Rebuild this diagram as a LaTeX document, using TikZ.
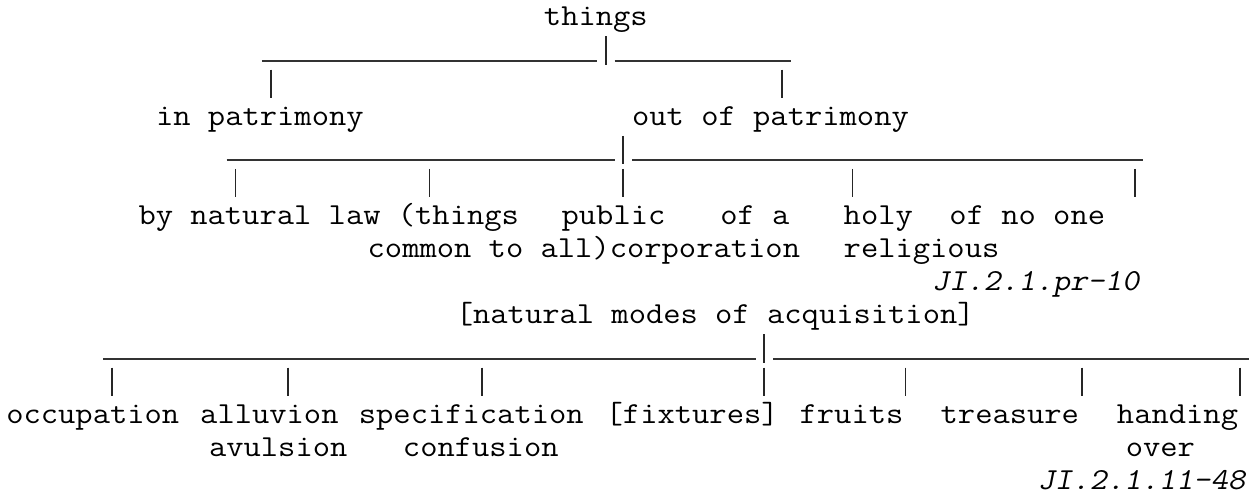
\documentclass[tikz,border=0pt]{standalone}
\usepackage{fontspec}
\newfontfamily\monofam{Latin Modern Mono}[FakeStretch=1.1]
\newfontfamily\reffam{Latin Modern Mono}[FakeStretch=1.1,FakeSlant=0.2]
% grid: cell start x and baseline y (1 unit = 1 px of the reference)
\newcommand{\cellx}[1]{(15.09+17.63*(#1))}
\newcommand{\basey}[1]{(-26-33.1*((#1)-1))}
\newcommand{\putlbl}[5][lbl]{\node[#1] (#2) at ({\cellx{#3}},{\basey{#4}}) {#5};}
\newcommand{\vbar}[3]{%
  \coordinate (#1-t) at ({\cellx{#3}+8.815},{\basey{#2}+22.6});
  \coordinate (#1-b) at ({\cellx{#3}+8.815},{\basey{#2}-6});
  \draw[bar] (#1-t) -- (#1-b);}
\newcommand{\hseg}[4]{%
  \coordinate (#1-w) at ({\cellx{#3}},{\basey{#2}-2});
  \coordinate (#1-e) at ({\cellx{#4}+17.63},{\basey{#2}-2});
  \draw[rule] (#1-w) -- (#1-e);}
\begin{document}
\begin{tikzpicture}[x=1pt,y=1pt,
  lbl/.style={font={\monofam\fontsize{30.53pt}{33pt}\selectfont}, anchor=base west,
    inner sep=0pt, outer sep=0pt, text=black},
  refl/.style={lbl, font={\reffam\fontsize{30.53pt}{33pt}\selectfont}},
  bar/.style={draw=black!85, line width=1.8pt},
  rule/.style={draw=black!80, line width=2pt}]
\useasboundingbox[fill=white] (0,0) rectangle (1255,-497);

% ---- first tree: things
\putlbl{things}{30}{1}{things}
\hseg{r2l}{2}{14}{32}
\vbar{r2j}{2}{33}
\hseg{r2r}{2}{34}{43}
\vbar{r3a}{3}{14}
\vbar{r3b}{3}{43}
\putlbl{inpat}{8}{4}{in patrimony}
\putlbl{outpat}{35}{4}{out of patrimony}

% ---- second level: out of patrimony
\hseg{r5l}{5}{12}{33}
\vbar{r5j}{5}{34}
\hseg{r5r}{5}{35}{63}
\vbar{r6a}{6}{12}
\vbar{r6b}{6}{23}
\vbar{r6c}{6}{34}
\vbar{r6d}{6}{47}
\vbar{r6e}{6}{63}
\putlbl{natlaw}{7}{7}{by natural law (things}
\putlbl{public}{31}{7}{public}
\putlbl{ofa}{40}{7}{of a}
\putlbl{holy}{47}{7}{holy}
\putlbl{noone}{53}{7}{of no one}
\putlbl{common}{20}{8}{common to all)corporation}
\putlbl{relig}{47}{8}{religious}
\putlbl[refl]{refa}{52}{9}{JI.2.1.pr-10}

% ---- natural modes of acquisition
\putlbl{modes}{25}{10}{[natural modes of acquisition]}
\hseg{r11l}{11}{5}{41}
\vbar{r11j}{11}{42}
\hseg{r11r}{11}{43}{69}
\vbar{r12a}{12}{5}
\vbar{r12b}{12}{15}
\vbar{r12c}{12}{26}
\vbar{r12d}{12}{42}
\vbar{r12e}{12}{50}
\vbar{r12f}{12}{60}
\vbar{r12g}{12}{69}
\putlbl{occ}{-0.5}{13}{occupation}
\putlbl{allu}{10.5}{13}{alluvion}
\putlbl{spec}{19.5}{13}{specification}
\putlbl{fix}{33.5}{13}{[fixtures]}
\putlbl{fruits}{44.5}{13}{fruits}
\putlbl{treas}{52.5}{13}{treasure}
\putlbl{hand}{62.5}{13}{handing}
\putlbl{avul}{11}{14}{avulsion}
\putlbl{conf}{22}{14}{confusion}
\putlbl{over}{63}{14}{over}
\putlbl[refl]{refb}{58}{15}{JI.2.1.11-48}
\end{tikzpicture}
\end{document}
